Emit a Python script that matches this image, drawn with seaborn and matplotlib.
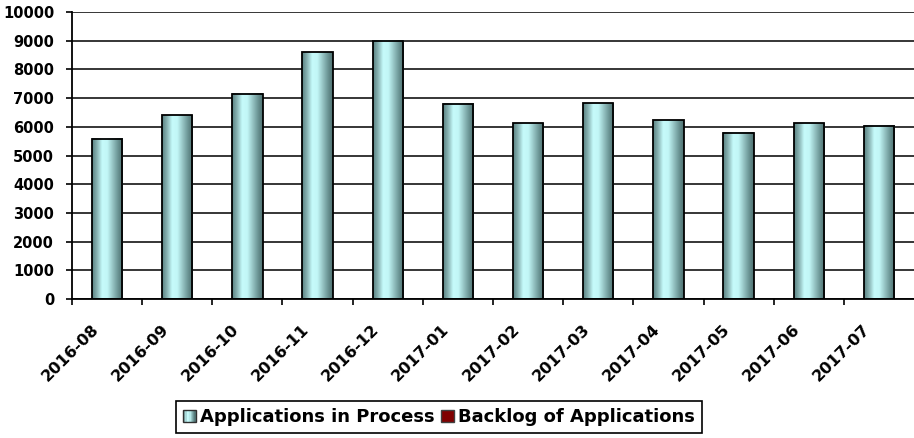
import numpy as np
import pandas as pd
import matplotlib
matplotlib.use("Agg")
import matplotlib.pyplot as plt
import matplotlib.transforms as mtransforms
from matplotlib.colors import LinearSegmentedColormap
from matplotlib.legend_handler import HandlerBase
from matplotlib.patches import Rectangle
import seaborn as sns

# ---- data ----
months = ["2016-08", "2016-09", "2016-10", "2016-11", "2016-12", "2017-01",
          "2017-02", "2017-03", "2017-04", "2017-05", "2017-06", "2017-07"]
in_process = [5590, 6410, 7150, 8590, 8990, 6810, 6130, 6820, 6220, 5800, 6130, 6030]
backlog = [0, 0, 0, 0, 0, 0, 0, 0, 0, 0, 0, 0]
y_ticks = [0, 1000, 2000, 3000, 4000, 5000, 6000, 7000, 8000, 9000, 10000]
series_names = ["Applications in Process", "Backlog of Applications"]

df = pd.DataFrame({"Month": months, "Value": in_process})

sns.set_theme(style="white")
plt.rcParams["font.family"] = ["DejaVu Sans"]
plt.rcParams["font.weight"] = "bold"
plt.rcParams["text.color"] = "black"
plt.rcParams["xtick.color"] = "black"
plt.rcParams["ytick.color"] = "black"
plt.rcParams["axes.labelcolor"] = "black"

W, H, DPI = 914, 438, 100
fig = plt.figure(figsize=(W / DPI, H / DPI), dpi=DPI)
ax = fig.add_axes([72 / W, (H - 299) / H, (W - 72) / W, (299 - 12) / H])

cyl = LinearSegmentedColormap.from_list(
    "cyl",
    [(0.0, "#5b8383"), (0.15, "#86b0b0"), (0.33, "#c6fbfb"), (0.5, "#c2f6f6"),
     (0.68, "#94c2c2"), (0.88, "#648c8c"), (1.0, "#4f7272")])

sns.barplot(data=df, x="Month", y="Value", ax=ax, width=0.43,
            facecolor="none", edgecolor="black", linewidth=1.3, zorder=3)

grad = np.linspace(0, 1, 64).reshape(1, -1)
for p in ax.patches:
    x0, w, h = p.get_x(), p.get_width(), p.get_height()
    ax.imshow(grad, cmap=cyl, aspect="auto", extent=[x0, x0 + w, 0, h],
              zorder=2, interpolation="bilinear")

n = len(months)
ax.set_xlim(-0.5, n - 0.5)
ax.set_ylim(y_ticks[0], y_ticks[-1])
ax.set_yticks(y_ticks)
ax.set_yticklabels([str(v) for v in y_ticks], fontsize=10.5, fontweight="bold")
ax.set_xticks(range(n))
ax.set_xticks(np.arange(n) - 0.5, minor=True)
ax.set_xlabel("")
ax.set_ylabel("")

ax.grid(axis="y", color="black", linewidth=1.1, zorder=1)
ax.set_axisbelow(True)
for s in ["top", "right"]:
    ax.spines[s].set_visible(False)
for s in ["left", "bottom"]:
    ax.spines[s].set_color("black")
    ax.spines[s].set_linewidth(1.3)
    ax.spines[s].set_zorder(4)

ax.tick_params(axis="y", which="major", direction="out", length=4.3, width=1.2,
               color="black", labelcolor="black", pad=8.5, left=True)
ax.tick_params(axis="x", which="major", length=0, pad=20, labelcolor="black")
ax.tick_params(axis="x", which="minor", direction="out", length=4.3, width=1.2,
               color="black", bottom=True)

offset = mtransforms.ScaledTranslation(-11 / DPI, 0, fig.dpi_scale_trans)
for lab in ax.get_xticklabels():
    lab.set_rotation(45)
    lab.set_ha("right")
    lab.set_va("center")
    lab.set_rotation_mode("anchor")
    lab.set_fontsize(11.5)
    lab.set_fontweight("bold")
    lab.set_color("black")
    lab.set_transform(lab.get_transform() + offset)


class GradHandler(HandlerBase):
    def create_artists(self, legend, orig_handle, xdescent, ydescent, width,
                       height, fontsize, trans):
        arts = []
        k = 10
        for i in range(k):
            arts.append(Rectangle((-xdescent + i * width / k, -ydescent), width / k,
                                  height, facecolor=cyl((i + 0.5) / k),
                                  edgecolor="none", transform=trans))
        arts.append(Rectangle((-xdescent, -ydescent), width, height, fill=False,
                              edgecolor="#303030", linewidth=1.0, transform=trans))
        return arts


h1 = Rectangle((0, 0), 1, 1, facecolor="#b0e0e0", edgecolor="black")
h2 = Rectangle((0, 0), 1, 1, facecolor="#800000", edgecolor="#404040", linewidth=1.0)
leg = fig.legend([h1, h2], series_names, loc="upper center",
                 bbox_to_anchor=(439 / W, 1 - 401 / H), ncol=2,
                 handler_map={h1: GradHandler()},
                 prop={"size": 13, "weight": "bold"},
                 frameon=True, fancybox=False, framealpha=1, edgecolor="black",
                 handlelength=0.7, handleheight=0.7, handletextpad=0.25,
                 columnspacing=0.35, borderpad=0.4, borderaxespad=0)
leg.get_frame().set_linewidth(1.2)
for t in leg.get_texts():
    t.set_color("black")

fig.savefig("out.png", dpi=DPI)
